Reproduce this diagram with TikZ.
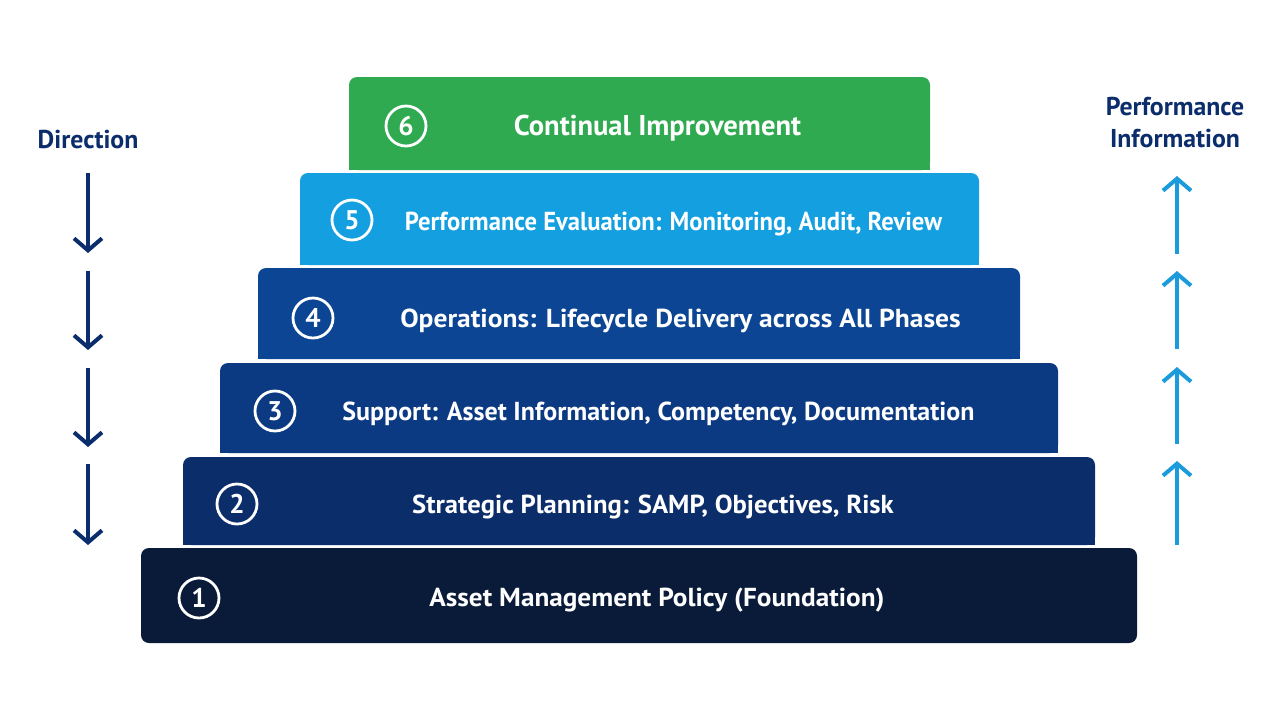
\documentclass[tikz,border=0pt]{standalone}
\usepackage{fontspec}
\setmainfont{PT Sans}
\usetikzlibrary{arrows.meta}
\definecolor{cgreen}{HTML}{30AA50}
\definecolor{csky}{HTML}{139FE0}
\definecolor{cfour}{HTML}{0B4593}
\definecolor{cthree}{HTML}{0B3A82}
\definecolor{ctwo}{HTML}{0B2D6A}
\definecolor{cone}{HTML}{0A1B3A}
\definecolor{navy}{HTML}{0B2D6B}
\definecolor{upblue}{HTML}{1A9BDC}
\tikzset{
  block/.style={rectangle, rounded corners=4pt, inner sep=0pt, draw=none},
  num/.style={circle, draw=white, line width=1.4pt, minimum size=20pt, inner sep=0pt, text=white, font=\bfseries\fontsize{13.5pt}{13.5pt}\selectfont},
  lbl/.style={text=white, inner sep=0pt, font=\bfseries\fontsize{13pt}{14pt}\selectfont},
  side/.style={text=navy, inner sep=0pt, align=center, font=\bfseries\fontsize{12.9pt}{16pt}\selectfont},
  downarr/.style={draw=navy, line width=2pt, -{Straight Barb[length=6pt,width=14pt]}},
  uparr/.style={draw=upblue, line width=2pt, -{Straight Barb[length=6pt,width=14pt]}},
}
\begin{document}
\begin{tikzpicture}[x=0.5pt,y=-0.5pt]
\useasboundingbox[fill=white] (0,0) rectangle (1280,720);
% blocks (cx, cy, w, h)
\node[block, fill=cgreen, minimum width=290.5pt, minimum height=46.5pt] (b6) at (639.5,123.5) {};
\fill[cgreen] (349,124) rectangle (930,170);
\node[block, fill=csky, minimum width=339.5pt, minimum height=46pt] (b5) at (639.5,219) {};
\fill[csky] (300,219) rectangle (979,265);
\node[block, fill=cfour, minimum width=381pt, minimum height=45.5pt] (b4) at (639,313.5) {};
\fill[cfour] (258,314) rectangle (1020,359);
\node[block, fill=cthree, minimum width=419pt, minimum height=45pt] (b3) at (639,408) {};
\fill[cthree] (220,408) rectangle (1058,453);
\node[block, fill=ctwo, minimum width=456pt, minimum height=44pt] (b2) at (639,501) {};
\fill[ctwo] (183,501) rectangle (1095,545);
\node[block, fill=cone, minimum width=498pt, minimum height=47.5pt] (b1) at (639,595.5) {};
% numbers
\node[num] (n6) at (406,126) {6};
\node[num] (n5) at (352,220) {5};
\node[num] (n4) at (313,318) {4};
\node[num] (n3) at (275,411) {3};
\node[num] (n2) at (237,504) {2};
\node[num] (n1) at (199,598) {1};
% labels
\node[lbl, font=\bfseries\fontsize{14.3pt}{16pt}\selectfont] (t6) at (657.5,128) {Continual Improvement};
\node[lbl] (t5) at (673.5,224) {\scalebox{0.947}[1]{Performance Evaluation: Monitoring, Audit, Review}};
\node[lbl] (t4) at (680.5,321) {\scalebox{1.058}[1]{Operations: Lifecycle Delivery across All Phases}};
\node[lbl] (t3) at (658.5,414) {Support: Asset Information, Competency, Documentation};
\node[lbl] (t2) at (653,507) {\scalebox{1.025}[1]{Strategic Planning: SAMP, Objectives, Risk}};
\node[lbl] (t1) at (657,600) {\scalebox{1.048}[1]{Asset Management Policy (Foundation)}};
% side labels
\node[side] (dir) at (88,139) {Direction};
\node[side] (perf) at (1175,123) {Performance\\Information};
% down arrows
\coordinate (d1a) at (88,173); \coordinate (d1b) at (88,253);
\coordinate (d2a) at (88,271); \coordinate (d2b) at (88,350);
\coordinate (d3a) at (88,368); \coordinate (d3b) at (88,447);
\coordinate (d4a) at (88,464); \coordinate (d4b) at (88,545);
\draw[downarr] (d1a) -- (d1b);
\draw[downarr] (d2a) -- (d2b);
\draw[downarr] (d3a) -- (d3b);
\draw[downarr] (d4a) -- (d4b);
% up arrows
\coordinate (u1a) at (1177,254); \coordinate (u1b) at (1177,176);
\coordinate (u2a) at (1177,349); \coordinate (u2b) at (1177,271);
\coordinate (u3a) at (1177,444); \coordinate (u3b) at (1177,367);
\coordinate (u4a) at (1177,545); \coordinate (u4b) at (1177,461);
\draw[uparr] (u1a) -- (u1b);
\draw[uparr] (u2a) -- (u2b);
\draw[uparr] (u3a) -- (u3b);
\draw[uparr] (u4a) -- (u4b);
\end{tikzpicture}
\end{document}
